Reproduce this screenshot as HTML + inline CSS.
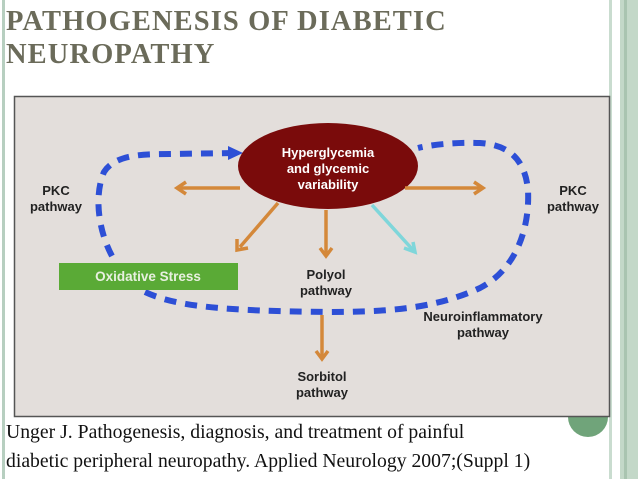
<!DOCTYPE html>
<html><head><style>
body{margin:0;width:638px;height:479px;overflow:hidden;background:#fff;position:relative;font-family:"Liberation Serif",serif}
.t{position:absolute;left:6px;top:5px;font-size:28.5px;font-weight:bold;color:#6b6b5a;line-height:33px;letter-spacing:1.1px}
.c{position:absolute;left:6px;font-size:19.7px;color:#111;white-space:nowrap}
</style></head><body>
<div style="position:absolute;left:2px;top:0;width:3px;height:479px;background:#b7cfc0"></div>
<div style="position:absolute;left:609px;top:0;width:3px;height:479px;background:#c9dccf"></div>
<div style="position:absolute;left:620px;top:0;width:18px;height:479px;background:#c3d8c8"></div>
<div style="position:absolute;left:624px;top:0;width:3px;height:479px;background:#a9c4b0"></div>
<div style="position:absolute;left:568px;top:383px;width:40px;height:54px;border-radius:0 0 30px 30px;background:#70a47a"></div>
<svg style="position:absolute;left:0;top:0" width="638" height="479">
<rect x="14.5" y="96.5" width="595" height="320" fill="#e3dedb" stroke="#555" stroke-width="1.5"/>
<g stroke="#2d4fd6" stroke-width="6" fill="none" stroke-dasharray="12,9">
<path d="M112,256 C98,230 94,195 104,172 C115,155 140,154 170,154 L236,153"/>
<path d="M145,292 C175,306 220,311 330,312 C400,312 440,306 480,288 C515,270 530,230 528,190 C525,160 510,145 480,143 C455,142 430,145 418,148"/>
</g>
<path d="M228,146 L243,153 L228,160 Z" fill="#2d4fd6"/>
<ellipse cx="328" cy="166" rx="90" ry="43" fill="#7a0b0b"/>
<g stroke="#d4883a" stroke-width="3.5" fill="none">
<line x1="240" y1="188" x2="180" y2="188"/>
<line x1="405" y1="188" x2="480" y2="188"/>
<line x1="278" y1="203" x2="240" y2="247"/>
<line x1="326" y1="210" x2="326" y2="254"/>
<line x1="322" y1="315" x2="322" y2="357"/>
<path d="M186,182 L177,188 L186,194"/>
<path d="M474,182 L483,188 L474,194"/>
<path d="M237,239 L237,250 L248,248"/>
<path d="M320,248 L326,256 L332,248"/>
<path d="M316,351 L322,359 L328,351"/>
</g>
<g stroke="#7fd6da" stroke-width="3.5" fill="none">
<line x1="372" y1="205" x2="413" y2="250"/>
<path d="M404,248 L415,252 L413,242"/>
</g>
<rect x="59" y="263" width="179" height="27" fill="#5aaa36"/>
<g font-family="Liberation Sans, sans-serif" font-weight="bold" font-size="13" text-anchor="middle">
<text x="328" y="157" fill="#fff">Hyperglycemia</text>
<text x="328" y="173" fill="#fff">and glycemic</text>
<text x="328" y="189" fill="#fff">variability</text>
<text x="148" y="281" fill="#e8f0e0" font-size="13.5">Oxidative Stress</text>
<g fill="#222">
<text x="56" y="195">PKC</text><text x="56" y="211">pathway</text>
<text x="573" y="195">PKC</text><text x="573" y="211">pathway</text>
<text x="326" y="279">Polyol</text><text x="326" y="295">pathway</text>
<text x="483" y="321">Neuroinflammatory</text><text x="483" y="337">pathway</text>
<text x="322" y="381">Sorbitol</text><text x="322" y="397">pathway</text>
</g></g>
</svg>
<div class="t">PATHOGENESIS OF DIABETIC<br>NEUROPATHY</div>
<div class="c" style="top:421px">Unger J. Pathogenesis, diagnosis, and treatment of painful</div>
<div class="c" style="top:450px">diabetic peripheral neuropathy. Applied Neurology 2007;(Suppl 1)</div>
</body></html>
